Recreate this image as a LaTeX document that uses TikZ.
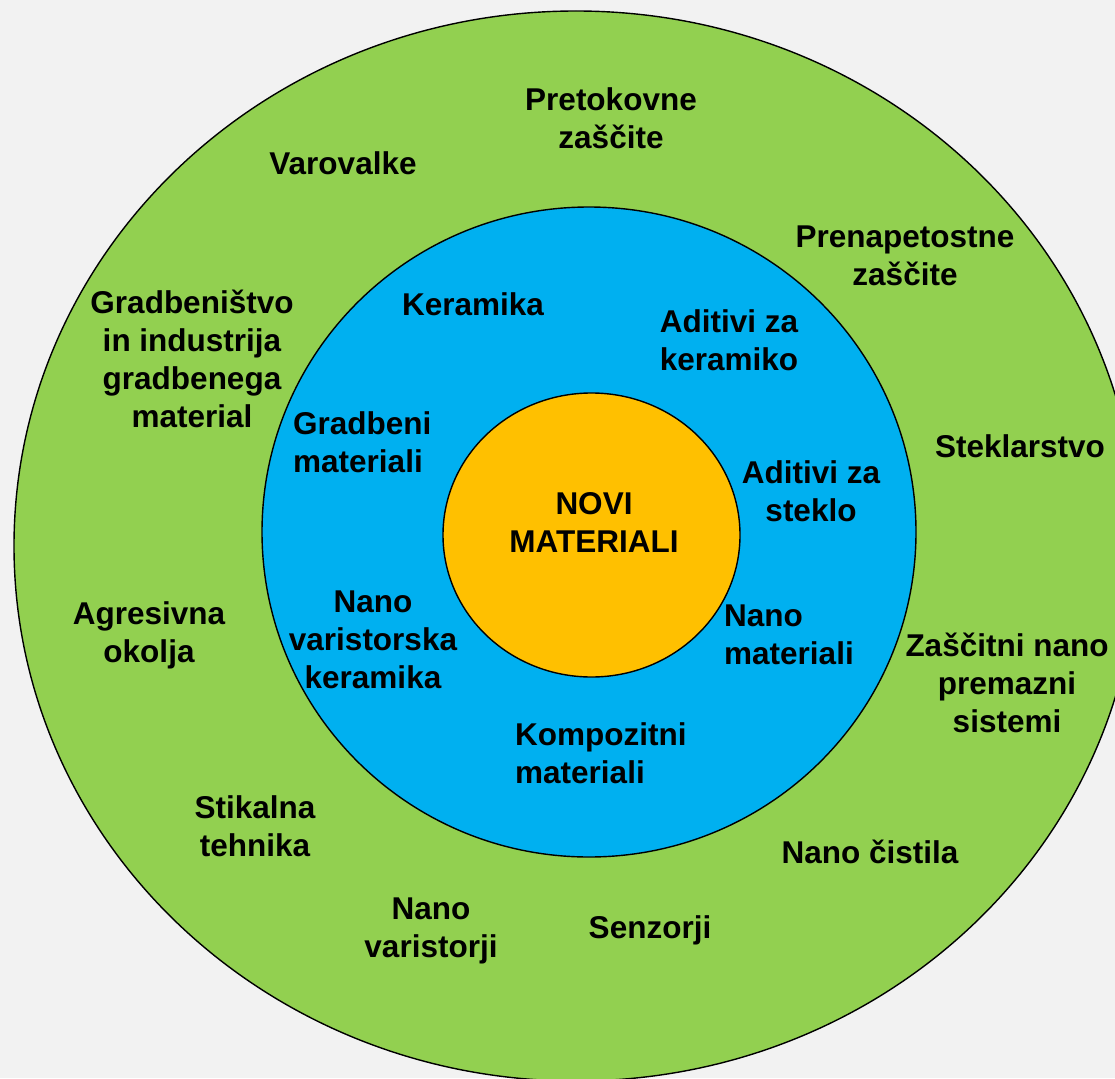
\documentclass[tikz,border=0pt]{standalone}
\usepackage{fontspec}
\setmainfont{Liberation Sans}
\definecolor{bgc}{HTML}{F2F2F2}
\definecolor{outerc}{HTML}{92D050}
\definecolor{midc}{HTML}{00B0F0}
\definecolor{innerc}{HTML}{FFC000}
\tikzset{
  lbl/.style={font=\fontsize{31.5}{38}\selectfont\bfseries, align=center, inner sep=0pt},
  lbll/.style={font=\fontsize{31.5}{38}\selectfont\bfseries, align=left, inner sep=0pt, anchor=west},
  ring/.style={draw=black, line width=1.4pt}
}
\begin{document}
\begin{tikzpicture}[x=1pt,y=-1pt]
\useasboundingbox (0,0) rectangle (1115,1078);
\fill[bgc] (0,0) rectangle (1115,1078);
\begin{scope}
\clip (0,0) rectangle (1115,1078);
\filldraw[ring, fill=outerc] (576,546) ellipse [x radius=562, y radius=535];
\end{scope}
\filldraw[ring, fill=midc] (589,532) ellipse [x radius=327, y radius=325];
\filldraw[ring, fill=innerc] (591.5,535) ellipse [x radius=148.5, y radius=142];

\node[lbl] (novi) at (594,522) {NOVI\\MATERIALI};

\node[lbl] (pretok) at (611,118) {Pretokovne\\zaščite};
\node[lbl] (varov) at (343,163) {Varovalke};
\node[lbl] (prenap) at (905,256) {Prenapetostne\\zaščite};
\node[lbl] (gradb) at (192,359) {Gradbeništvo\\in industrija\\gradbenega\\material};
\node[lbl] (stekl) at (1020,446) {Steklarstvo};
\node[lbl] (agres) at (149,635) {Agresivna\\okolja};
\node[lbl] (zasc) at (1007,683) {Zaščitni nano\\premazni\\sistemi};
\node[lbl] (stik) at (255,826) {Stikalna\\tehnika};
\node[lbl] (cist) at (870,852) {Nano čistila};
\node[lbl] (nvar) at (431,931) {Nano\\varistorji};
\node[lbl] (senz) at (650,930) {Senzorji};

\node[lbl] (keram) at (473,304) {Keramika};
\node[lbl] (adker) at (729,340) {Aditivi za\\keramiko};
\node[lbll] (gmat) at (293,442) {Gradbeni\\materiali};
\node[lbl] (adst) at (811,491) {Aditivi za\\steklo};
\node[lbl] (nvk) at (373,640) {Nano\\varistorska\\keramika};
\node[lbll] (nmat) at (724,635) {Nano\\materiali};
\node[lbll] (komp) at (515,753) {Kompozitni\\materiali};
\end{tikzpicture}
\end{document}
